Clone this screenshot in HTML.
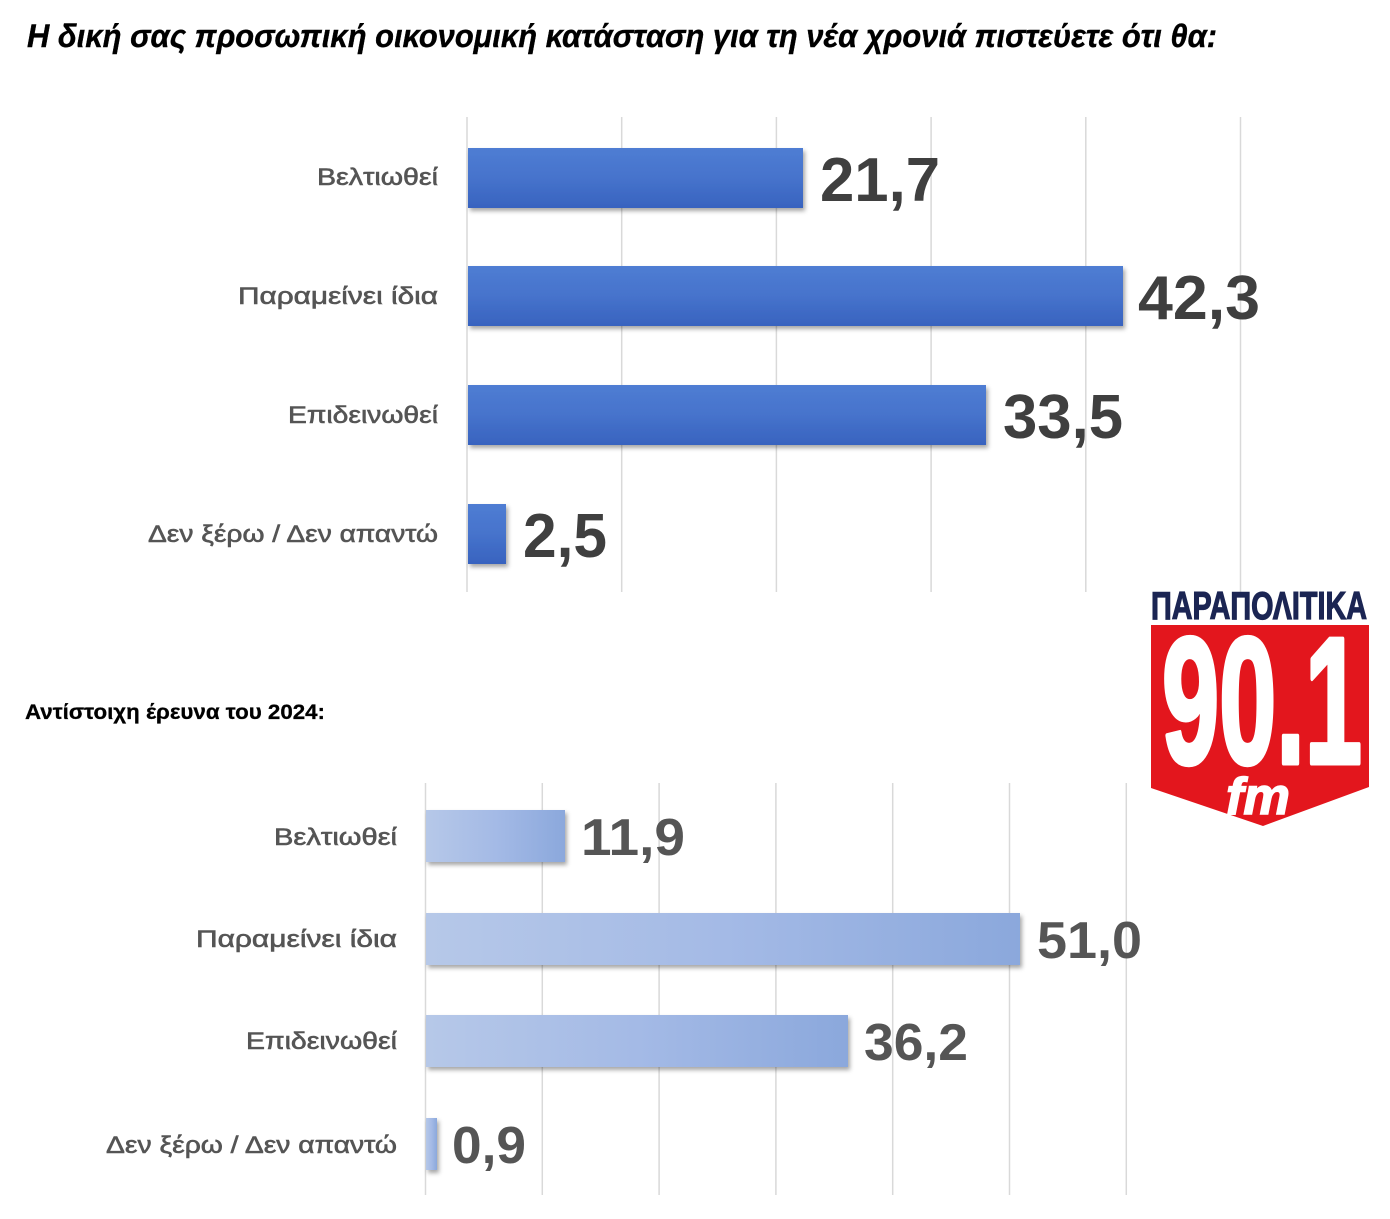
<!DOCTYPE html>
<html>
<head>
<meta charset="utf-8">
<style>
  html, body { margin: 0; padding: 0; background: #ffffff; }
  body { width: 1390px; height: 1219px; overflow: hidden; }
  svg { display: block; }
</style>
</head>
<body>
<svg width="1390" height="1219" viewBox="0 0 1390 1219" xmlns="http://www.w3.org/2000/svg">
  <defs>
    <linearGradient id="gTop" x1="0" y1="0" x2="0" y2="1">
      <stop offset="0" stop-color="#4f7dd3"/>
      <stop offset="0.5" stop-color="#4673cc"/>
      <stop offset="1" stop-color="#3863bf"/>
    </linearGradient>
    <linearGradient id="gBot" x1="0" y1="0" x2="1" y2="0">
      <stop offset="0" stop-color="#b6c8e8"/>
      <stop offset="0.5" stop-color="#a4bae6"/>
      <stop offset="1" stop-color="#8ba8dc"/>
    </linearGradient>
    <filter id="sh" x="-5%" y="-20%" width="115%" height="150%">
      <feDropShadow dx="2" dy="3" stdDeviation="2" flood-color="#000" flood-opacity="0.35"/>
    </filter>
  </defs>

  <!-- Title -->
  <text x="27" y="47" font-family="Liberation Sans, sans-serif" font-size="32" font-weight="bold" font-style="italic" fill="#000" stroke="#000" stroke-width="0.4" textLength="1190" lengthAdjust="spacingAndGlyphs">Η δική σας προσωπική οικονομική κατάσταση για τη νέα χρονιά πιστεύετε ότι θα:</text>

  <!-- Top chart gridlines -->
  <g stroke="#d9d9d9" stroke-width="1.5">
    <line x1="467" y1="117" x2="467" y2="592"/>
    <line x1="621.7" y1="117" x2="621.7" y2="592"/>
    <line x1="776.4" y1="117" x2="776.4" y2="592"/>
    <line x1="931.1" y1="117" x2="931.1" y2="592"/>
    <line x1="1085.8" y1="117" x2="1085.8" y2="592"/>
    <line x1="1240.5" y1="117" x2="1240.5" y2="592"/>
  </g>

  <!-- Top bars -->
  <g fill="url(#gTop)" filter="url(#sh)">
    <rect x="468" y="148" width="335" height="60"/>
    <rect x="468" y="266" width="655" height="60"/>
    <rect x="468" y="385" width="518" height="60"/>
    <rect x="468" y="504" width="38" height="60"/>
  </g>

  <!-- Top category labels -->
  <g font-family="Liberation Sans, sans-serif" font-size="24" fill="#555555" stroke="#555555" stroke-width="0.6">
    <text x="317" y="185" textLength="121" lengthAdjust="spacingAndGlyphs">Βελτιωθεί</text>
    <text x="238" y="304" textLength="200" lengthAdjust="spacingAndGlyphs">Παραμείνει ίδια</text>
    <text x="288" y="423" textLength="150" lengthAdjust="spacingAndGlyphs">Επιδεινωθεί</text>
    <text x="148" y="542" textLength="290" lengthAdjust="spacingAndGlyphs">Δεν ξέρω / Δεν απαντώ</text>
  </g>

  <!-- Top value labels -->
  <g font-family="Liberation Sans, sans-serif" font-size="62" font-weight="bold" fill="#3f3f3f">
    <text x="820" y="201" textLength="120" lengthAdjust="spacingAndGlyphs">21,7</text>
    <text x="1138" y="319" textLength="122" lengthAdjust="spacingAndGlyphs">42,3</text>
    <text x="1003" y="438" textLength="120" lengthAdjust="spacingAndGlyphs">33,5</text>
    <text x="523" y="557" textLength="84" lengthAdjust="spacingAndGlyphs">2,5</text>
  </g>

  <!-- Subtitle -->
  <text x="25" y="719" font-family="Liberation Sans, sans-serif" font-size="21" font-weight="bold" fill="#000" stroke="#000" stroke-width="0.3" textLength="300" lengthAdjust="spacingAndGlyphs">Αντίστοιχη έρευνα του 2024:</text>

  <!-- Bottom chart gridlines -->
  <g stroke="#d9d9d9" stroke-width="1.5">
    <line x1="425.5" y1="783" x2="425.5" y2="1195"/>
    <line x1="542.3" y1="783" x2="542.3" y2="1195"/>
    <line x1="659.1" y1="783" x2="659.1" y2="1195"/>
    <line x1="775.9" y1="783" x2="775.9" y2="1195"/>
    <line x1="892.7" y1="783" x2="892.7" y2="1195"/>
    <line x1="1009.5" y1="783" x2="1009.5" y2="1195"/>
    <line x1="1126.3" y1="783" x2="1126.3" y2="1195"/>
  </g>

  <!-- Bottom bars -->
  <g fill="url(#gBot)" filter="url(#sh)">
    <rect x="426" y="810" width="139" height="52"/>
    <rect x="426" y="913" width="594" height="52"/>
    <rect x="426" y="1015" width="422" height="52"/>
    <rect x="426" y="1118" width="11" height="52"/>
  </g>

  <!-- Bottom category labels -->
  <g font-family="Liberation Sans, sans-serif" font-size="24" fill="#555555" stroke="#555555" stroke-width="0.6">
    <text x="274" y="845" textLength="123" lengthAdjust="spacingAndGlyphs">Βελτιωθεί</text>
    <text x="196" y="947" textLength="201" lengthAdjust="spacingAndGlyphs">Παραμείνει ίδια</text>
    <text x="246" y="1049" textLength="151" lengthAdjust="spacingAndGlyphs">Επιδεινωθεί</text>
    <text x="106" y="1153" textLength="291" lengthAdjust="spacingAndGlyphs">Δεν ξέρω / Δεν απαντώ</text>
  </g>

  <!-- Bottom value labels -->
  <g font-family="Liberation Sans, sans-serif" font-size="52" font-weight="bold" fill="#555555">
    <text x="581" y="855" textLength="104" lengthAdjust="spacingAndGlyphs">11,9</text>
    <text x="1037" y="958" textLength="105" lengthAdjust="spacingAndGlyphs">51,0</text>
    <text x="864" y="1060" textLength="104" lengthAdjust="spacingAndGlyphs">36,2</text>
    <text x="452" y="1163" textLength="74" lengthAdjust="spacingAndGlyphs">0,9</text>
  </g>

  <!-- Logo -->
  <text x="1151" y="619" font-family="Liberation Sans, sans-serif" font-size="39" font-weight="bold" fill="#1b2553" textLength="216" lengthAdjust="spacingAndGlyphs" stroke="#1b2553" stroke-width="1.2">ΠΑΡΑΠΟΛΙΤΙΚΑ</text>
  <polygon points="1151,625 1369,625 1369,787 1263,826 1151,788" fill="#e3161d"/>
  <text x="1162" y="763" font-family="Liberation Sans, sans-serif" font-size="180" font-weight="bold" fill="#ffffff" stroke="#ffffff" stroke-width="5" stroke-linejoin="round" textLength="200" lengthAdjust="spacingAndGlyphs">90.1</text>
  <text x="1226" y="814" font-family="Liberation Sans, sans-serif" font-size="52" font-weight="bold" font-style="italic" fill="#ffffff" stroke="#ffffff" stroke-width="1.5" textLength="64" lengthAdjust="spacingAndGlyphs">fm</text>
</svg>
</body>
</html>
